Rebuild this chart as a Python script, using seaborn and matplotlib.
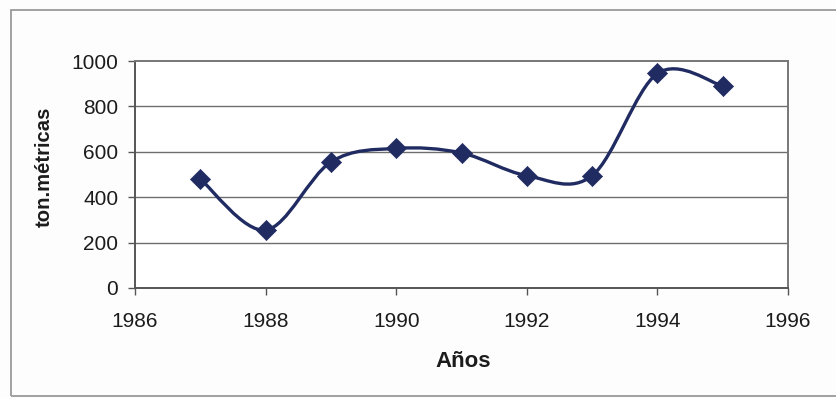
import numpy as np
import pandas as pd
import seaborn as sns
import matplotlib
matplotlib.use("Agg")
import matplotlib.pyplot as plt
from matplotlib.path import Path
from matplotlib.patches import PathPatch, Rectangle

# Production by year (metric tons)
years = [1987, 1988, 1989, 1990, 1991, 1992, 1993, 1994, 1995]
tons = [480, 255, 555, 615, 595, 495, 495, 945, 890]

x_ticks = [1986, 1988, 1990, 1992, 1994, 1996]
y_ticks = [0, 200, 400, 600, 800, 1000]

navy = "#202b62"
grid_gray = "#6e6e6e"
text_col = "#1c1c1c"

sns.set_theme(style="white")
plt.rcParams["font.family"] = ["Liberation Sans", "DejaVu Sans"]

df = pd.DataFrame({"Años": years, "ton.métricas": tons})

fig = plt.figure(figsize=(8.36, 3.98), dpi=100)
fig.patch.set_facecolor("#fdfdfd")
ax = fig.add_axes([0.1615, 0.2764, 0.9426 - 0.1615, 0.8467 - 0.2764])
ax.set_facecolor("white")

# Outer chart frame
fig.patches.append(Rectangle((11 / 836, 1 - 396 / 398), 1.0, (396 - 10) / 398,
                             transform=fig.transFigure, fill=False,
                             edgecolor="#9a9a9a", linewidth=1.3, zorder=0))

# Smoothed curve through the points (cubic Bezier segments)
pts = np.column_stack([years, tons]).astype(float)
n = len(pts)
verts = [tuple(pts[0])]
codes = [Path.MOVETO]
for i in range(n - 1):
    p_prev = pts[i - 1] if i > 0 else pts[i]
    p0 = pts[i]
    p1 = pts[i + 1]
    p_next = pts[i + 2] if i + 2 < n else pts[i + 1]
    c1 = p0 + (p1 - p_prev) / 6.0
    c2 = p1 - (p_next - p0) / 6.0
    verts += [tuple(c1), tuple(c2), tuple(p1)]
    codes += [Path.CURVE4] * 3
ax.add_patch(PathPatch(Path(verts, codes), facecolor="none", edgecolor=navy,
                       linewidth=2.4, zorder=3))

sns.scatterplot(data=df, x="Años", y="ton.métricas", marker="D", s=105,
                color=navy, edgecolor=navy, linewidth=0.5, zorder=4, ax=ax)

ax.set_xlim(1986, 1996)
ax.set_ylim(0, 1000)
ax.set_xticks(x_ticks)
ax.set_yticks(y_ticks)
ax.set_xticklabels([str(v) for v in x_ticks], fontsize=15, color=text_col)
ax.set_yticklabels([str(v) for v in y_ticks], fontsize=15, color=text_col)

for v in y_ticks[1:-1]:
    ax.axhline(v, color=grid_gray, linewidth=1.0, zorder=1)

for side in ["left", "right", "top", "bottom"]:
    ax.spines[side].set_visible(True)
    ax.spines[side].set_color("#777777")
    ax.spines[side].set_linewidth(1.4)
ax.spines["left"].set_color("#555555")
ax.spines["bottom"].set_color("#555555")

ax.tick_params(axis="both", which="major", direction="out", length=5,
               width=1.0, color="#555555", left=True, bottom=True)
ax.tick_params(axis="y", pad=7)
ax.tick_params(axis="x", pad=12)

ax.set_xlabel("Años", fontsize=16, fontweight="bold", color=text_col)
ax.set_ylabel("ton.métricas", fontsize=14.6, fontweight="bold", color=text_col)
ax.xaxis.label.set_verticalalignment("center")
ax.yaxis.label.set_verticalalignment("center")
ax.xaxis.set_label_coords(0.502, -0.326)
ax.yaxis.set_label_coords(-0.139, 0.533)

fig.savefig("out.png", dpi=100, facecolor=fig.get_facecolor())
